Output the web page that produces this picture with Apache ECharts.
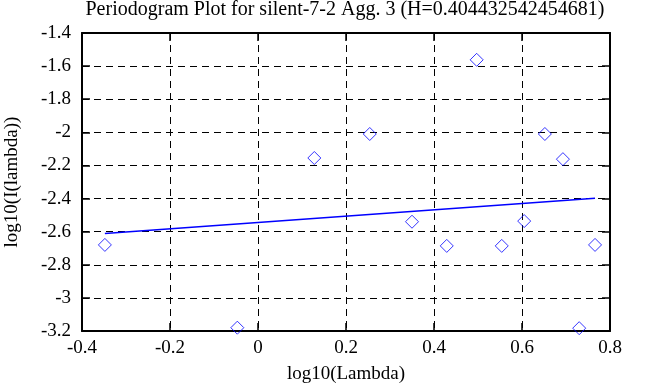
<!DOCTYPE html>
<html><head><meta charset="utf-8">
<script src="https://cdn.jsdelivr.net/npm/echarts@6/dist/echarts.min.js"></script>
<style>html,body{margin:0;padding:0;background:#fff}#c{width:653px;height:387px}</style>
</head><body><div id="c"></div>
<script>
var titleText = 'Periodogram Plot for silent-7-2 Agg. 3 (H=0.404432542454681)';
var logLambda = [-0.348, -0.047, 0.128, 0.254, 0.350, 0.429, 0.497, 0.554, 0.605, 0.652, 0.693, 0.730, 0.766];
var logI = [-2.68, -3.18, -2.155, -2.01, -2.54, -2.686, -1.562, -2.686, -2.536, -2.01, -2.162, -3.183, -2.68];
var fitX = [-0.348, 0.766];
var fitY = [-2.611, -2.398];
var xTicks = [-0.4, -0.2, 0, 0.2, 0.4, 0.6, 0.8];
var yTicks = [-3.2, -3, -2.8, -2.6, -2.4, -2.2, -2, -1.8, -1.6, -1.4];

var font = 'Liberation Serif';
var pts = logLambda.map(function(x, i){ return [x, logI[i]]; });
var fit = fitX.map(function(x, i){ return [x, fitY[i]]; });
function fmt(v){ return String(Math.round(v*10)/10); }
var tick = {show:true, inside:true, length:8, lineStyle:{color:'#000', width:1.5}};
var grid = {show:true, lineStyle:{color:'#000', type:[7,5], width:1}};
var chart = echarts.init(document.getElementById('c'));
chart.setOption({
  animation:false,
  title:{text:titleText, left:345, textAlign:'center', top:0, padding:0,
    textStyle:{fontFamily:font, fontSize:20, fontWeight:'normal', color:'#000'}},
  grid:{left:82, right:43, top:33, bottom:56, containLabel:false, outerBoundsMode:'none'},
  xAxis:[{type:'value', min:xTicks[0], max:xTicks[xTicks.length-1], interval:0.2,
    axisLine:{show:true, onZero:false, lineStyle:{color:'#000', width:2}},
    axisTick:tick, splitLine:grid,
    axisLabel:{color:'#000', fontFamily:font, fontSize:19, margin:8, formatter:fmt},
    name:'log10(Lambda)', nameLocation:'middle', nameGap:34,
    nameTextStyle:{color:'#000', fontFamily:font, fontSize:19}},
   {type:'value', position:'top', min:xTicks[0], max:xTicks[xTicks.length-1], interval:0.2,
    axisLine:{show:true, onZero:false, lineStyle:{color:'#000', width:2}},
    axisTick:tick, splitLine:{show:false}, axisLabel:{show:false}}],
  yAxis:[{type:'value', min:yTicks[0], max:yTicks[yTicks.length-1], interval:0.2,
    axisLine:{show:true, onZero:false, lineStyle:{color:'#000', width:2}},
    axisTick:tick, splitLine:grid,
    axisLabel:{color:'#000', fontFamily:font, fontSize:19, margin:11, formatter:fmt},
    name:'log10(I(lambda))', nameLocation:'middle', nameGap:60, nameRotate:90,
    nameTextStyle:{color:'#000', fontFamily:font, fontSize:19}},
   {type:'value', position:'right', min:yTicks[0], max:yTicks[yTicks.length-1], interval:0.2,
    axisLine:{show:true, onZero:false, lineStyle:{color:'#000', width:2}},
    axisTick:tick, splitLine:{show:false}, axisLabel:{show:false}}],
  series:[
    {type:'scatter', data:pts, symbol:'diamond', symbolSize:13,
     itemStyle:{color:'transparent', borderColor:'#0000ff', borderWidth:1}},
    {type:'line', data:fit, symbol:'none', lineStyle:{color:'#0000ff', width:1.5}}
  ]
});
</script></body></html>
